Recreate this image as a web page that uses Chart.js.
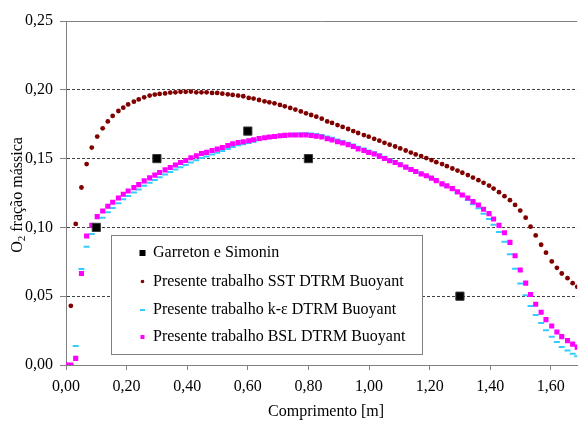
<!DOCTYPE html>
<html>
<head>
<meta charset="utf-8">
<script src="https://cdn.jsdelivr.net/npm/chart.js@4.4.0/dist/chart.umd.min.js"></script>
<style>
  html, body { margin: 0; padding: 0; background: #ffffff; }
  #wrap { width: 584px; height: 421px; }
</style>
</head>
<body>
<div id="wrap"><canvas id="chart" width="584" height="421"></canvas></div>
<script>
// Axial position along the burner [m]
const comprimento = [
  0.000, 0.016, 0.032, 0.051, 0.068, 0.085, 0.103, 0.121, 0.138, 0.154,
  0.173, 0.189, 0.205, 0.224, 0.240, 0.258, 0.276, 0.293, 0.309, 0.327,
  0.344, 0.361, 0.378, 0.395, 0.412, 0.430, 0.447, 0.464, 0.482, 0.499,
  0.516, 0.534, 0.550, 0.568, 0.585, 0.603, 0.619, 0.637, 0.655, 0.671,
  0.688, 0.706, 0.722, 0.740, 0.757, 0.775, 0.792, 0.809, 0.826, 0.844,
  0.862, 0.878, 0.896, 0.913, 0.931, 0.948, 0.964, 0.983, 0.999, 1.017,
  1.034, 1.051, 1.068, 1.086, 1.103, 1.121, 1.138, 1.154, 1.172, 1.189,
  1.206, 1.222, 1.241, 1.257, 1.275, 1.292, 1.308, 1.326, 1.343, 1.361,
  1.378, 1.396, 1.411, 1.429, 1.447, 1.465, 1.482, 1.499, 1.517, 1.533,
  1.550, 1.568, 1.584, 1.603, 1.620, 1.636, 1.655, 1.672, 1.687
];

// O2 mass fraction, SST DTRM Buoyant
const sstDtrm = [
  0.000, 0.043, 0.1025, 0.129, 0.146, 0.158, 0.166, 0.172, 0.177, 0.181,
  0.1846, 0.187, 0.1894, 0.1914, 0.193, 0.1945, 0.1958, 0.1965, 0.197, 0.1974,
  0.198, 0.1982, 0.1985, 0.1985, 0.1987, 0.1982, 0.1982, 0.1982, 0.1977, 0.1977,
  0.1972, 0.1967, 0.1963, 0.1958, 0.1953, 0.1941, 0.1936, 0.1926, 0.1916, 0.1909,
  0.1902, 0.1890, 0.1880, 0.1868, 0.1856, 0.1843, 0.1829, 0.1817, 0.1805, 0.1790,
  0.1770, 0.1759, 0.1744, 0.1730, 0.1715, 0.1700, 0.1686, 0.1671, 0.1659, 0.1644,
  0.1630, 0.1615, 0.1601, 0.1588, 0.1574, 0.1559, 0.1544, 0.1530, 0.1518, 0.1504,
  0.1489, 0.1474, 0.1460, 0.1445, 0.1428, 0.1413, 0.1397, 0.1380, 0.1362, 0.1343,
  0.1324, 0.1304, 0.1282, 0.1256, 0.1227, 0.1198, 0.1163, 0.1122, 0.1071, 0.1005,
  0.0942, 0.0874, 0.0816, 0.0753, 0.0706, 0.0665, 0.0631, 0.0595, 0.0568
];

// O2 mass fraction, k-epsilon DTRM Buoyant
const kEpsDtrm = [
  0.000, 0.000, 0.0138, 0.0697, 0.0860, 0.0952, 0.1025, 0.1071, 0.1110, 0.1141,
  0.1176, 0.1205, 0.1229, 0.1253, 0.1276, 0.1302, 0.1325, 0.1345, 0.1364, 0.1384,
  0.1402, 0.1420, 0.1438, 0.1454, 0.1472, 0.1488, 0.1504, 0.1515, 0.1529, 0.1542,
  0.1555, 0.1570, 0.1585, 0.1597, 0.1604, 0.1614, 0.1623, 0.1634, 0.1642, 0.1649,
  0.1655, 0.1662, 0.1668, 0.1674, 0.1680, 0.1683, 0.1684, 0.1682, 0.1678, 0.1672,
  0.1660, 0.1651, 0.1638, 0.1628, 0.1616, 0.1602, 0.1586, 0.1573, 0.1558, 0.1546,
  0.1531, 0.1513, 0.1495, 0.1482, 0.1464, 0.1446, 0.1428, 0.1412, 0.1393, 0.1378,
  0.1359, 0.1340, 0.1314, 0.1298, 0.1276, 0.1250, 0.1226, 0.1200, 0.1168, 0.1139,
  0.1100, 0.1061, 0.1020, 0.0966, 0.0896, 0.0804, 0.0699, 0.0593, 0.0507, 0.0429,
  0.0364, 0.0305, 0.0252, 0.0206, 0.0167, 0.0130, 0.0106, 0.0082, 0.0063
];

// O2 mass fraction, BSL DTRM Buoyant
const bslDtrm = [
  0.000, 0.000, 0.0048, 0.0665, 0.0937, 0.1015, 0.1078, 0.1119, 0.1154, 0.1183,
  0.1214, 0.1241, 0.1265, 0.1289, 0.1311, 0.1338, 0.1360, 0.1380, 0.1399, 0.1418,
  0.1435, 0.1453, 0.1472, 0.1486, 0.1506, 0.1520, 0.1537, 0.1545, 0.1559, 0.1569,
  0.1581, 0.1595, 0.1608, 0.1617, 0.1622, 0.1630, 0.1637, 0.1646, 0.1652, 0.1657,
  0.1661, 0.1666, 0.1669, 0.1671, 0.1671, 0.1671, 0.1671, 0.1668, 0.1663, 0.1657,
  0.1644, 0.1635, 0.1622, 0.1613, 0.1601, 0.1588, 0.1571, 0.1559, 0.1544, 0.1533,
  0.1518, 0.1501, 0.1484, 0.1472, 0.1455, 0.1438, 0.1421, 0.1406, 0.1389, 0.1375,
  0.1358, 0.1340, 0.1316, 0.1302, 0.1282, 0.1258, 0.1236, 0.1214, 0.1187, 0.1163,
  0.1132, 0.1100, 0.1061, 0.1015, 0.0961, 0.0891, 0.0794, 0.0690, 0.0595, 0.0512,
  0.0442, 0.0383, 0.0330, 0.0284, 0.0240, 0.0206, 0.0177, 0.0152, 0.0130
];

// Experimental measurements (Garreton e Simonin)
const expX = [0.10, 0.30, 0.60, 0.80, 1.30];
const expY = [0.10, 0.15, 0.17, 0.15, 0.05];

// Axis ticks
const xTicks = [0.00, 0.20, 0.40, 0.60, 0.80, 1.00, 1.20, 1.40, 1.60];
const yTicks = [0.00, 0.05, 0.10, 0.15, 0.20, 0.25];
const xMax = 1.687;

const legendLabels = [
  'Garreton e Simonin',
  'Presente trabalho SST DTRM Buoyant',
  'Presente trabalho k-\u03b5 DTRM Buoyant',
  'Presente trabalho BSL DTRM Buoyant'
];

const FONT = "'Liberation Serif', 'Times New Roman', serif";
const C_EXP = '#000000';
const C_SST = '#800000';
const C_KE = '#33CCFF';
const C_BSL = '#FF00FF';

const toPoints = (xs, ys) => xs.map((x, i) => ({ x: x, y: ys[i] }));
const fmt = v => Number(v).toFixed(2).replace('.', ',');

// Titles and the boxed legend are painted on top of the plot
const decorations = {
  id: 'decorations',
  afterDraw(chart) {
    const ctx = chart.ctx;
    const area = chart.chartArea;
    ctx.save();

    // plot area top border
    ctx.strokeStyle = '#808080';
    ctx.lineWidth = 1;
    ctx.beginPath();
    ctx.moveTo(area.left, Math.round(area.top) + 0.5);
    ctx.lineTo(area.right, Math.round(area.top) + 0.5);
    ctx.stroke();

    // x title
    ctx.fillStyle = '#000';
    ctx.font = '16px ' + FONT;
    ctx.textAlign = 'center';
    ctx.textBaseline = 'middle';
    ctx.fillText('Comprimento [m]', 326, 412);

    // y title with subscript
    ctx.save();
    ctx.translate(18, 195);
    ctx.rotate(-Math.PI / 2);
    ctx.textAlign = 'left';
    ctx.textBaseline = 'middle';
    const big = '16px ' + FONT, small = '11px ' + FONT;
    ctx.font = big;
    const wO = ctx.measureText('O').width;
    const rest = ' fra\u00e7\u00e3o m\u00e1ssica';
    const wR = ctx.measureText(rest).width;
    ctx.font = small;
    const w2 = ctx.measureText('2').width;
    let x0 = -(wO + w2 + wR) / 2;
    ctx.font = big;
    ctx.fillText('O', x0, 0);
    ctx.font = small;
    ctx.fillText('2', x0 + wO, 4);
    ctx.font = big;
    ctx.fillText(rest, x0 + wO + w2, 0);
    ctx.restore();

    // legend box
    const bx = 111.5, by = 235.5, bw = 311, bh = 119;
    ctx.fillStyle = '#ffffff';
    ctx.fillRect(bx, by, bw, bh);
    ctx.strokeStyle = '#808080';
    ctx.strokeRect(bx, by, bw, bh);

    const rows = [253, 281.5, 310, 337];
    const mx = 142.5, tx = 153;
    // markers
    ctx.fillStyle = C_EXP;
    ctx.fillRect(mx - 3, rows[0] - 3, 6, 6);
    ctx.fillStyle = C_SST;
    ctx.beginPath();
    ctx.arc(mx, rows[1], 1.8, 0, Math.PI * 2);
    ctx.fill();
    ctx.strokeStyle = C_KE;
    ctx.lineWidth = 2;
    ctx.beginPath();
    ctx.moveTo(mx - 2.5, rows[2]);
    ctx.lineTo(mx + 2.5, rows[2]);
    ctx.stroke();
    ctx.fillStyle = C_BSL;
    ctx.fillRect(mx - 2, rows[3] - 2, 4, 4);
    // labels
    ctx.fillStyle = '#000';
    ctx.font = '16px ' + FONT;
    ctx.textAlign = 'left';
    ctx.textBaseline = 'middle';
    legendLabels.forEach((t, i) => ctx.fillText(t, tx, rows[i]));

    ctx.restore();
  }
};

new Chart(document.getElementById('chart'), {
  type: 'scatter',
  data: {
    datasets: [
      {
        label: legendLabels[0],
        data: toPoints(expX, expY),
        pointStyle: 'rect',
        pointRadius: 5.8,
        backgroundColor: C_EXP,
        borderColor: '#3a3a3a',
        borderWidth: 1
      },
      {
        label: legendLabels[3],
        data: toPoints(comprimento, bslDtrm),
        pointStyle: 'rect',
        pointRadius: 3.6,
        backgroundColor: C_BSL,
        borderColor: C_BSL,
        borderWidth: 0
      },
      {
        label: legendLabels[2],
        data: toPoints(comprimento, kEpsDtrm),
        pointStyle: 'line',
        pointRadius: 3,
        borderColor: C_KE,
        backgroundColor: C_KE,
        borderWidth: 2
      },
      {
        label: legendLabels[1],
        data: toPoints(comprimento, sstDtrm),
        pointStyle: 'circle',
        pointRadius: 2.4,
        backgroundColor: C_SST,
        borderColor: C_SST,
        borderWidth: 0
      }
    ]
  },
  options: {
    responsive: false,
    animation: false,
    events: [],
    layout: { padding: { top: 21, right: 0, bottom: 0, left: 0 } },
    plugins: {
      legend: { display: false },
      tooltip: { enabled: false }
    },
    scales: {
      x: {
        type: 'linear',
        min: 0,
        max: xMax,
        afterBuildTicks: s => { s.ticks = xTicks.map(v => ({ value: v })); },
        afterFit: s => { s.height = 56; },
        grid: { drawOnChartArea: false, tickLength: 5, color: '#808080', tickColor: '#808080' },
        border: { color: '#808080', width: 1 },
        ticks: {
          color: '#000',
          font: { family: FONT, size: 16 },
          padding: 7,
          maxRotation: 0,
          autoSkip: false,
          callback: v => fmt(v)
        }
      },
      y: {
        type: 'linear',
        min: 0,
        max: 0.25,
        afterBuildTicks: s => { s.ticks = yTicks.map(v => ({ value: v })); },
        afterFit: s => { s.width = 66; },
        grid: {
          tickLength: 6,
          tickColor: '#808080',
          color: c => (c.tick && c.tick.value > 0.001 && c.tick.value < 0.249) ? '#404040' : 'rgba(0,0,0,0)'
        },
        border: { color: '#808080', width: 1, dash: [3, 2] },
        ticks: {
          color: '#000',
          font: { family: FONT, size: 16 },
          padding: 7,
          callback: v => fmt(v)
        }
      }
    }
  },
  plugins: [decorations]
});
</script>
</body>
</html>
